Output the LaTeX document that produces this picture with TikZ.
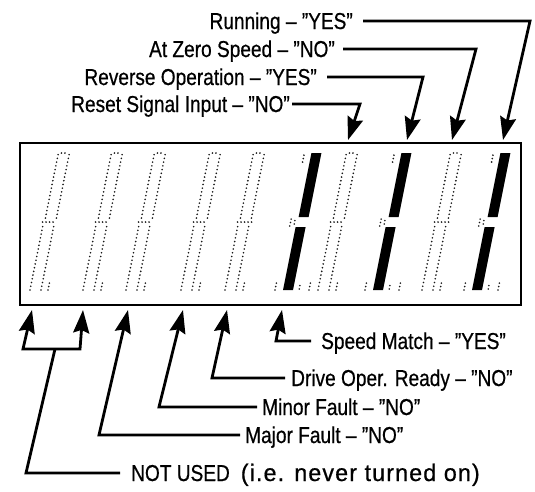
\documentclass[tikz,border=0pt]{standalone}
\usepackage{fontspec}
\setmainfont{Liberation Sans}[FakeStretch=0.83, FakeBold=0.6]
\usepackage{graphicx}
\usetikzlibrary{arrows.meta}
\newcommand\qq{\char34\relax}
\begin{document}
\begin{tikzpicture}[x=1pt, y=-1pt, line join=miter,
  lbl/.style={inner sep=0pt, text height=16pt, text depth=0pt, font=\fontsize{23pt}{26pt}\selectfont},
  conn/.style={line width=2.8pt},
  arr/.style={conn, -{Stealth[length=23pt,width=16pt,inset=3pt]}},
  dotline/.style={line width=1.8pt, line cap=round, dash pattern=on 0pt off 3.8pt, black!90},
  dotbit/.style={line width=1.8pt, line cap=round, dash pattern=on 0pt off 3.5pt, black!90}]
\useasboundingbox (0,0) rectangle (535,491);

% display frame
\draw[line width=1.4pt] (20,143) -- (521,143) -- (521,305);
\draw[line width=2.6pt] (20,142.3) -- (20,305) -- (521.7,305);

% unlit (dotted) digits
\foreach \bx in {30,83,126,181,225,318,422}{
  \begin{scope}[shift={(\bx,290)}, y=1pt, xslant=0.2]
    \draw[dotline] (0,0) -- (0,64);
    \draw[dotline] (1,72) -- (1,137);
    \draw[dotline] (11,0) -- (11,64);
    \draw[dotline] (12,72) -- (12,137);
    \draw[dotbit] (-1,68) -- (13,68);
    \draw[dotbit] (18,0) -- (18,8);
    \draw[dotbit] (4,137) -- (10,137);
  \end{scope}
}
% lit digits (solid bars)
\foreach \bx in {283,373,472}{
  \begin{scope}[shift={(\bx,290)}, y=1pt, xslant=0.2]
    \fill (0,0) -- (10,0) -- (10,63) -- (0,63) -- cycle;
    \fill (1,73) -- (11,73) -- (11,137) -- (1,137) -- cycle;
    \draw[dotbit] (-8,0) -- (-8,7);
    \draw[dotbit] (16,1) -- (16,5);
    \draw[dotbit] (26,0) -- (26,7);
    \draw[dotbit] (-6,64) -- (-6,72);
    \draw[dotbit] (-2,66) -- (-2,70);
    \draw[dotbit] (-6,128) -- (-6,136);
  \end{scope}
}

% upper labels
\node[lbl, anchor=east] (lRun)  at (353,21)  {Running – \qq YES\qq};
\node[lbl, anchor=east] (lZero) at (335,49)  {At Zero Speed – \qq NO\qq};
\node[lbl, anchor=east] (lRev)  at (317,77)  {Reverse Operation – \qq YES\qq};
\node[lbl, anchor=east] (lRes)  at (290,104) {Reset Signal Input – \qq NO\qq};

\coordinate (cRun)  at (530,21);  \coordinate (tRun)  at (503,140);
\coordinate (cZero) at (476,49);  \coordinate (tZero) at (452,140);
\coordinate (cRev)  at (423,77);  \coordinate (tRev)  at (407,140);
\coordinate (cRes)  at (360,104); \coordinate (tRes)  at (348,140);

\draw[arr] ([xshift=10pt]lRun.east) -- (cRun) -- (tRun);
\draw[arr] ([xshift=8pt]lZero.east) -- (cZero) -- (tZero);
\draw[arr] ([xshift=10pt]lRev.east) -- (cRev) -- (tRev);
\draw[arr] ([xshift=2pt]lRes.east) -- (cRes) -- (tRes);

% lower labels
\node[lbl, anchor=west] (lSpd) at (321,341) {Speed Match – \qq YES\qq};
\node[lbl, anchor=west] (lDrv) at (291,378) {Drive Oper. Ready – \qq NO\qq};
\node[lbl, anchor=west] (lMin) at (262,407) {Minor Fault – \qq NO\qq};
\node[lbl, anchor=west] (lMaj) at (245,435) {Major Fault – \qq NO\qq};
\node[lbl, anchor=west] (lNU)  at (131,473) {NOT USED\hspace{11pt}\scalebox{1.22}[1.04]{\addfontfeature{LetterSpace=4}(i.e. never turned on)}};

\coordinate (tSpd) at (282,310); \coordinate (cSpd) at (276,341);
\coordinate (tDrv) at (227,310); \coordinate (cDrv) at (212,378);
\coordinate (tMin) at (183,310); \coordinate (cMin) at (159,407);
\coordinate (tMaj) at (128,310); \coordinate (cMaj) at (99,435);
\coordinate (cNU)  at (26,473);  \coordinate (jNU)  at (55,349);
\coordinate (cL)   at (23,349);  \coordinate (cR)   at (80,349);
\coordinate (tU1)  at (32,310);  \coordinate (tU2)  at (83,310);

\draw[arr] ([xshift=-10pt]lSpd.west) -- (cSpd) -- (tSpd);
\draw[arr] ([xshift=-6pt]lDrv.west) -- (cDrv) -- (tDrv);
\draw[arr] ([xshift=-5pt]lMin.west) -- (cMin) -- (tMin);
\draw[arr] ([xshift=-5pt]lMaj.west) -- (cMaj) -- (tMaj);
\draw[conn] ([xshift=-11pt]lNU.west) -- (cNU) -- (jNU);
\draw[conn, {Stealth[length=23pt,width=16pt,inset=3pt]}-{Stealth[length=23pt,width=16pt,inset=3pt]}] (tU1) -- (cL) -- (cR) -- (tU2);
\end{tikzpicture}
\end{document}
